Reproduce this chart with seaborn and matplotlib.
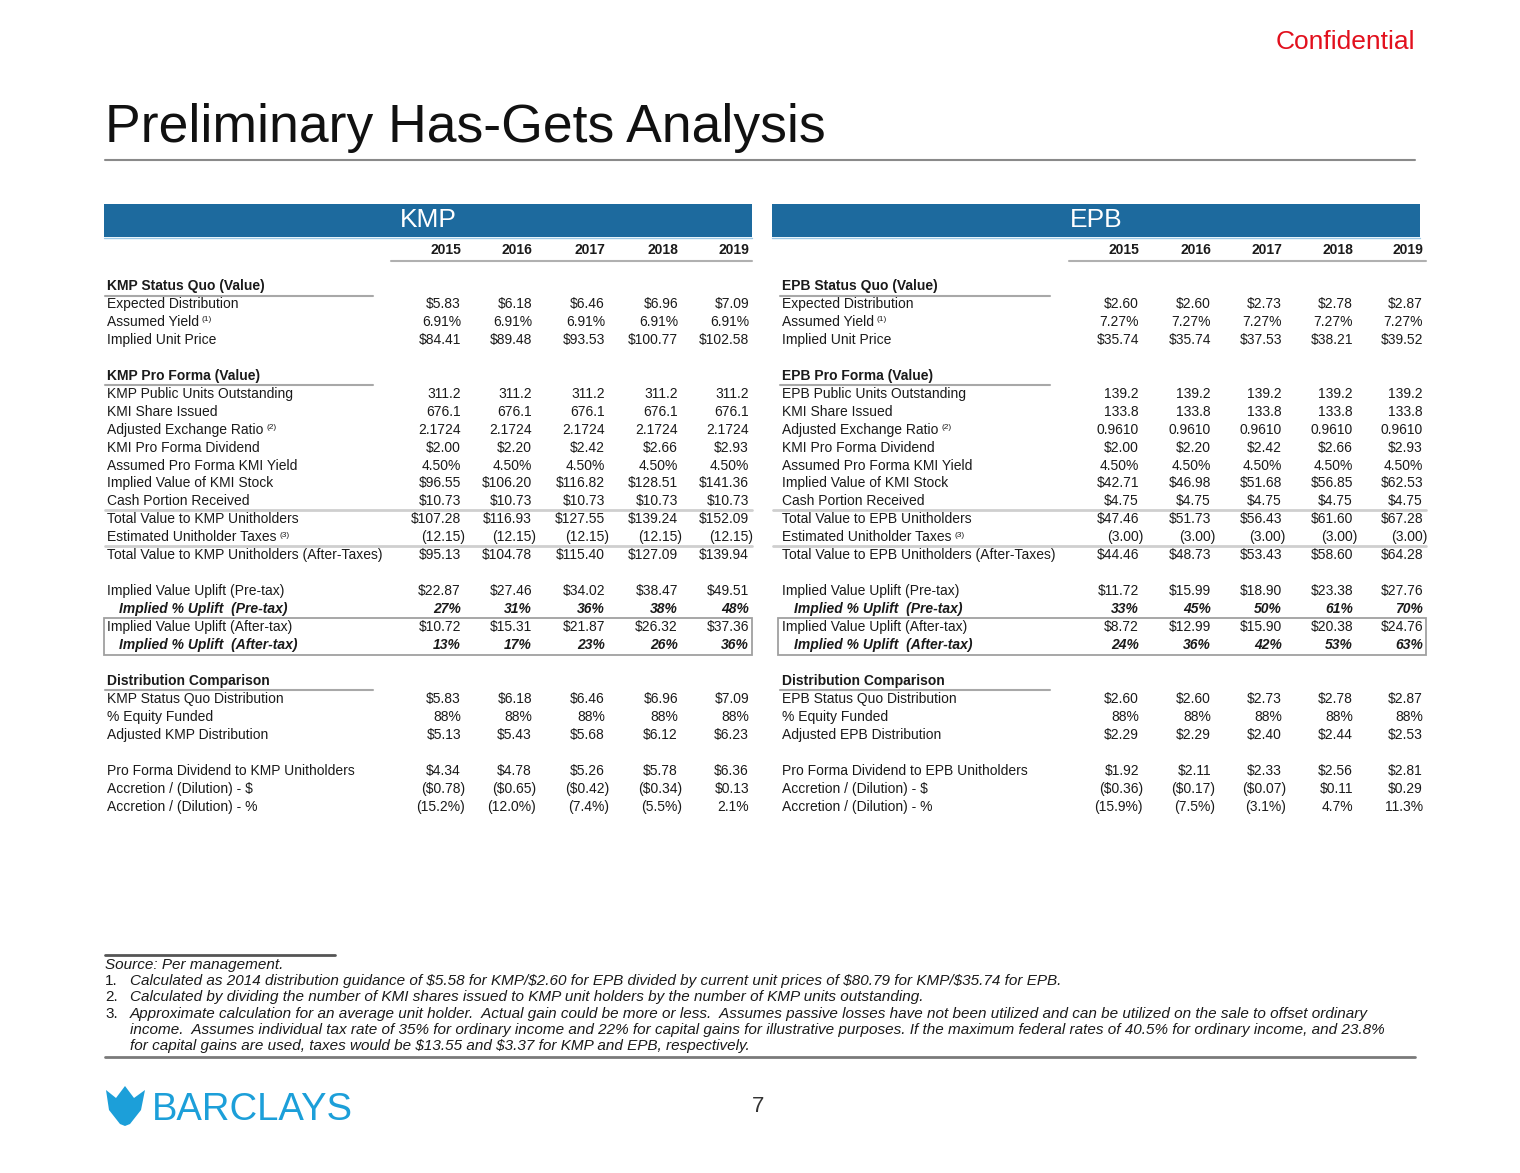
import numpy as np
import pandas as pd
import seaborn as sns
import matplotlib.pyplot as plt
from matplotlib.patches import Rectangle, Polygon

sns.set_theme(style="white")
plt.rcParams['font.family'] = ['Liberation Sans', 'DejaVu Sans']

years = [2015, 2016, 2017, 2018, 2019]

# ---- KMP values ----
kmp_expected_dist = [5.83, 6.18, 6.46, 6.96, 7.09]
kmp_yield = [6.91, 6.91, 6.91, 6.91, 6.91]
kmp_unit_price = [84.41, 89.48, 93.53, 100.77, 102.58]
kmp_public_units = [311.2, 311.2, 311.2, 311.2, 311.2]
kmp_kmi_shares = [676.1, 676.1, 676.1, 676.1, 676.1]
kmp_exchange_ratio = [2.1724, 2.1724, 2.1724, 2.1724, 2.1724]
kmi_pf_dividend = [2.00, 2.20, 2.42, 2.66, 2.93]
kmi_pf_yield = [4.50, 4.50, 4.50, 4.50, 4.50]
kmp_kmi_stock = [96.55, 106.20, 116.82, 128.51, 141.36]
kmp_cash = [10.73, 10.73, 10.73, 10.73, 10.73]
kmp_total = [107.28, 116.93, 127.55, 139.24, 152.09]
kmp_taxes = [-12.15, -12.15, -12.15, -12.15, -12.15]
kmp_total_after = [95.13, 104.78, 115.40, 127.09, 139.94]
kmp_uplift_pre = [22.87, 27.46, 34.02, 38.47, 49.51]
kmp_uplift_pre_pct = [27, 31, 36, 38, 48]
kmp_uplift_after = [10.72, 15.31, 21.87, 26.32, 37.36]
kmp_uplift_after_pct = [13, 17, 23, 26, 36]
kmp_sq_dist = [5.83, 6.18, 6.46, 6.96, 7.09]
equity_funded = [88, 88, 88, 88, 88]
kmp_adj_dist = [5.13, 5.43, 5.68, 6.12, 6.23]
kmp_pf_dividend = [4.34, 4.78, 5.26, 5.78, 6.36]
kmp_accretion = [-0.78, -0.65, -0.42, -0.34, 0.13]
kmp_accretion_pct = [-15.2, -12.0, -7.4, -5.5, 2.1]

# ---- EPB values ----
epb_expected_dist = [2.60, 2.60, 2.73, 2.78, 2.87]
epb_yield = [7.27, 7.27, 7.27, 7.27, 7.27]
epb_unit_price = [35.74, 35.74, 37.53, 38.21, 39.52]
epb_public_units = [139.2, 139.2, 139.2, 139.2, 139.2]
epb_kmi_shares = [133.8, 133.8, 133.8, 133.8, 133.8]
epb_exchange_ratio = [0.9610, 0.9610, 0.9610, 0.9610, 0.9610]
epb_kmi_stock = [42.71, 46.98, 51.68, 56.85, 62.53]
epb_cash = [4.75, 4.75, 4.75, 4.75, 4.75]
epb_total = [47.46, 51.73, 56.43, 61.60, 67.28]
epb_taxes = [-3.00, -3.00, -3.00, -3.00, -3.00]
epb_total_after = [44.46, 48.73, 53.43, 58.60, 64.28]
epb_uplift_pre = [11.72, 15.99, 18.90, 23.38, 27.76]
epb_uplift_pre_pct = [33, 45, 50, 61, 70]
epb_uplift_after = [8.72, 12.99, 15.90, 20.38, 24.76]
epb_uplift_after_pct = [24, 36, 42, 53, 63]
epb_sq_dist = [2.60, 2.60, 2.73, 2.78, 2.87]
epb_adj_dist = [2.29, 2.29, 2.40, 2.44, 2.53]
epb_pf_dividend = [1.92, 2.11, 2.33, 2.56, 2.81]
epb_accretion = [-0.36, -0.17, -0.07, 0.11, 0.29]
epb_accretion_pct = [-15.9, -7.5, -3.1, 4.7, 11.3]

footnotes = [
    ("", "Source: Per management."),
    ("1.", "Calculated as 2014 distribution guidance of $5.58 for KMP/$2.60 for EPB divided by current unit prices of $80.79 for KMP/$35.74 for EPB."),
    ("2.", "Calculated by dividing the number of KMI shares issued to KMP unit holders by the number of KMP units outstanding."),
    ("3.", "Approximate calculation for an average unit holder.  Actual gain could be more or less.  Assumes passive losses have not been utilized and can be utilized on the sale to offset ordinary"),
    ("", "income.  Assumes individual tax rate of 35% for ordinary income and 22% for capital gains for illustrative purposes. If the maximum federal rates of 40.5% for ordinary income, and 23.8%"),
    ("", "for capital gains are used, taxes would be $13.55 and $3.37 for KMP and EPB, respectively."),
]


def fmt(v, kind):
    if kind == 'usd':
        return f"${v:.2f}" if v >= 0 else f"(${-v:.2f})"
    if kind == 'pct2':
        return f"{v:.2f}%"
    if kind == 'pct0':
        return f"{v:.0f}%"
    if kind == 'pct1':
        return f"{v:.1f}%" if v >= 0 else f"({-v:.1f}%)"
    if kind == 'n1':
        return f"{v:.1f}"
    if kind == 'n4':
        return f"{v:.4f}"
    if kind == 'paren':
        return f"({-v:.2f})"
    return str(v)


def panel_rows(n, d):
    # (label, values, format, style, footnote)
    return [
        (f"{n} Status Quo (Value)", None, None, 'head', None),
        ("Expected Distribution", d['exp'], 'usd', 'row', None),
        ("Assumed Yield", d['yld'], 'pct2', 'row', '(1)'),
        ("Implied Unit Price", d['price'], 'usd', 'row', None),
        None,
        (f"{n} Pro Forma (Value)", None, None, 'head', None),
        (f"{n} Public Units Outstanding", d['units'], 'n1', 'row', None),
        ("KMI Share Issued", d['shares'], 'n1', 'row', None),
        ("Adjusted Exchange Ratio", d['ratio'], 'n4', 'row', '(2)'),
        ("KMI Pro Forma Dividend", kmi_pf_dividend, 'usd', 'row', None),
        ("Assumed Pro Forma KMI Yield", kmi_pf_yield, 'pct2', 'row', None),
        ("Implied Value of KMI Stock", d['stock'], 'usd', 'row', None),
        ("Cash Portion Received", d['cash'], 'usd', 'row', None),
        (f"Total Value to {n} Unitholders", d['total'], 'usd', 'row', None),
        ("Estimated Unitholder Taxes", d['taxes'], 'paren', 'row', '(3)'),
        (f"Total Value to {n} Unitholders (After-Taxes)", d['after'], 'usd', 'row', None),
        None,
        ("Implied Value Uplift (Pre-tax)", d['up_pre'], 'usd', 'row', None),
        ("Implied % Uplift  (Pre-tax)", d['up_pre_pct'], 'pct0', 'ital', None),
        ("Implied Value Uplift (After-tax)", d['up_after'], 'usd', 'row', None),
        ("Implied % Uplift  (After-tax)", d['up_after_pct'], 'pct0', 'ital', None),
        None,
        ("Distribution Comparison", None, None, 'head', None),
        (f"{n} Status Quo Distribution", d['sq'], 'usd', 'row', None),
        ("% Equity Funded", equity_funded, 'pct0', 'row', None),
        (f"Adjusted {n} Distribution", d['adj'], 'usd', 'row', None),
        None,
        (f"Pro Forma Dividend to {n} Unitholders", d['pfd'], 'usd', 'row', None),
        ("Accretion / (Dilution) - $", d['acc'], 'usd', 'row', None),
        ("Accretion / (Dilution) - %", d['acc_pct'], 'pct1', 'row', None),
    ]


kmp = dict(exp=kmp_expected_dist, yld=kmp_yield, price=kmp_unit_price, units=kmp_public_units,
           shares=kmp_kmi_shares, ratio=kmp_exchange_ratio, stock=kmp_kmi_stock, cash=kmp_cash,
           total=kmp_total, taxes=kmp_taxes, after=kmp_total_after, up_pre=kmp_uplift_pre,
           up_pre_pct=kmp_uplift_pre_pct, up_after=kmp_uplift_after, up_after_pct=kmp_uplift_after_pct,
           sq=kmp_sq_dist, adj=kmp_adj_dist, pfd=kmp_pf_dividend, acc=kmp_accretion, acc_pct=kmp_accretion_pct)
epb = dict(exp=epb_expected_dist, yld=epb_yield, price=epb_unit_price, units=epb_public_units,
           shares=epb_kmi_shares, ratio=epb_exchange_ratio, stock=epb_kmi_stock, cash=epb_cash,
           total=epb_total, taxes=epb_taxes, after=epb_total_after, up_pre=epb_uplift_pre,
           up_pre_pct=epb_uplift_pre_pct, up_after=epb_uplift_after, up_after_pct=epb_uplift_after_pct,
           sq=epb_sq_dist, adj=epb_adj_dist, pfd=epb_pf_dividend, acc=epb_accretion, acc_pct=epb_accretion_pct)

BLUE = '#1d6a9e'
TXT = '#1a1a1a'
FS = 10

fig = plt.figure(figsize=(15.2, 11.73), dpi=100)
ax = fig.add_axes([0, 0, 1, 1])
ax.set_xlim(0, 1520)
ax.set_ylim(1173, 0)
ax.axis('off')


def txt(x, y, s, **kw):
    kw.setdefault('color', TXT)
    kw.setdefault('fontsize', FS)
    kw.setdefault('va', 'center')
    return ax.text(x, y, s, parse_math=False, **kw)


# header
txt(1415, 42, "Confidential", ha='right', fontsize=19, color='#e2101d')
txt(105, 142, "Preliminary Has-Gets Analysis", va='baseline', fontsize=38.5, color='#111111')
ax.plot([105, 1415], [160, 160], color='#8a8a8a', lw=1.5)

y0, dy = 286, 17.95


def draw_panel(name, d, band_x0, band_x1, lab_x, cols, head_line_x1, box_x0):
    ax.add_patch(Rectangle((band_x0, 204), band_x1 - band_x0, 33, color=BLUE, lw=0))
    ax.plot([band_x0, band_x1], [237.5, 237.5], color='#9cc9e6', lw=1)
    txt((band_x0 + band_x1) / 2, 220, name, ha='center', fontsize=19, color='white')
    for x, yr in zip(cols, years):
        txt(x, 250, str(yr), ha='right', fontweight='bold')
    ax.plot([cols[0] - 70, cols[-1] + 3], [261, 261], color='#b0b0b0', lw=1.5)

    rows = panel_rows(name, d)
    for i, row in enumerate(rows):
        if row is None:
            continue
        label, vals, kind, style, note = row
        y = y0 + i * dy
        if style == 'head':
            txt(lab_x, y, label, fontweight='bold')
            ax.plot([lab_x - 2, head_line_x1], [y + 9.5, y + 9.5], color='#a8a8a8', lw=1.5)
            continue
        kw = {}
        lx = lab_x
        if style == 'ital':
            kw = dict(fontstyle='italic', fontweight='bold')
            lx = lab_x + 12
        t = txt(lx, y, label, **kw)
        if note:
            ax.annotate(note, xy=(1, 1), xycoords=t, xytext=(2, -1), textcoords='offset points',
                        fontsize=6, color=TXT, va='top', ha='left')
        for x, v in zip(cols, vals):
            s = fmt(v, kind)
            xx = x + 4 if s.startswith('(') else x
            txt(xx, y, s, ha='right', **kw)

    # separator lines and box
    for i in (12.5, 14.5):
        yy = y0 + i * dy
        ax.plot([band_x0 + 1, cols[-1] + 3], [yy, yy], color='#cfcfcf', lw=2)
    ytop, ybot = y0 + 19 * dy - 9.5, y0 + 20 * dy + 9.5
    ax.add_patch(Rectangle((box_x0, ytop), cols[-1] + 3 - box_x0, ybot - ytop,
                           fill=False, ec='#a0a0a0', lw=1.3))


draw_panel("KMP", kmp, 104, 752, 107, [461, 532, 605, 678, 749], 373, 104)
draw_panel("EPB", epb, 772, 1420, 782, [1139, 1211, 1282, 1353, 1423], 1050, 778)

# footnotes
ax.plot([105, 335], [955, 955], color='#555555', lw=2)
for k, (num, line) in enumerate(footnotes):
    y = 965 + k * 16.2
    if k == 0:
        txt(105, y, line, fontstyle='italic', fontsize=11)
    else:
        if num:
            txt(105, y, num, fontsize=11)
        txt(130, y, line, fontstyle='italic', fontsize=11)
ax.plot([105, 1415], [1057, 1057], color='#7a7a7a', lw=2)

# logo
logo_blue = '#1c9fd9'
ax.add_patch(Polygon([[106, 1090], [116, 1098], [125, 1086], [134, 1098], [145, 1090],
                      [141, 1110], [130, 1124], [125, 1126], [120, 1124], [109, 1110]],
                     closed=True, color=logo_blue, lw=0))
ax.text(152, 1120, "BARCLAYS", fontsize=27.5, color=logo_blue, va='baseline',
        family=['Liberation Sans Narrow', 'Liberation Sans'])
txt(758, 1107, "7", ha='center', fontsize=16, color='#333333')

fig.savefig("out.png", dpi=100)
